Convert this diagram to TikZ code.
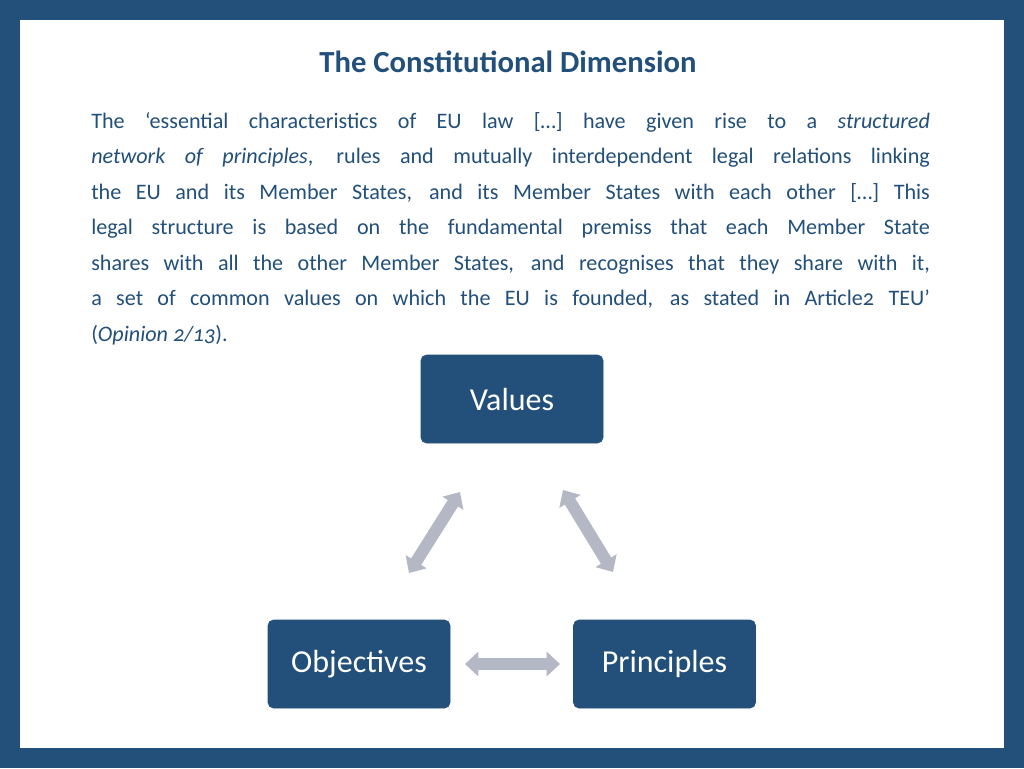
\documentclass[tikz,border=0pt]{standalone}
\usepackage{fontspec}
\setmainfont{Carlito}[Numbers=OldStyle]
\usetikzlibrary{arrows.meta}
\definecolor{eublue}{HTML}{22507A}
\definecolor{arrowgray}{HTML}{B4B8C4}
\tikzset{
  conceptbox/.style={draw=eublue, fill=eublue, rounded corners=4pt, minimum width=136.5pt, minimum height=66pt, text=white, font=\fontsize{24}{28}\selectfont},
  linkarrow/.style={draw=arrowgray, line width=9pt, {Triangle[width=18pt,length=10pt]}-{Triangle[width=18pt,length=10pt]}, shorten <=0pt, shorten >=0pt}
}
\begin{document}
\begin{tikzpicture}[x=0.75pt,y=-0.75pt]
        % Draw the frame
        \fill[eublue] (0,0) rectangle (1024,768);
        \fill[white] (20,20) rectangle (1004,748);

        % Title and quotation
        \node[text=eublue, font=\bfseries\fontsize{23}{28}\selectfont] (title) at (508,62) {The Constitutional Dimension};
        \node[anchor=north west, inner sep=0pt, text width=629pt, align=justify, text=eublue,
              font=\fontsize{16.6}{26.6}\selectfont] (quote) at (91,112)
        {The `essential characteristics of EU law [\dots] have given rise to a \textit{structured}\linebreak
         \textit{network of principles}, rules and mutually interdependent legal relations linking\linebreak
         the EU and its Member States, and its Member States with each other [\dots] This\linebreak
         legal structure is based on the fundamental premiss that each Member State\linebreak
         shares with all the other Member States, and recognises that they share with it,\linebreak
         a set of common values on which the EU is founded, as stated in Article2 TEU'\linebreak
         (\textit{Opinion 2/13}).};

        % Draw the boxes
        \node[conceptbox] (values) at (512,399) {Values};
        \node[conceptbox] (objectives) at (359,664) {Objectives};
        \node[conceptbox] (principles) at (664.5,664) {Principles};

        % Draw the arrows
        \coordinate (vl) at (460,492);
        \coordinate (ol) at (409,573);
        \coordinate (vr) at (563,490);
        \coordinate (pr) at (613,572);
        \coordinate (ob) at (465,664);
        \coordinate (pb) at (560,664);
        \draw[linkarrow] (vl) -- (ol);
        \draw[linkarrow] (vr) -- (pr);
        \draw[linkarrow] (ob) -- (pb);
    \end{tikzpicture}
\end{document}
